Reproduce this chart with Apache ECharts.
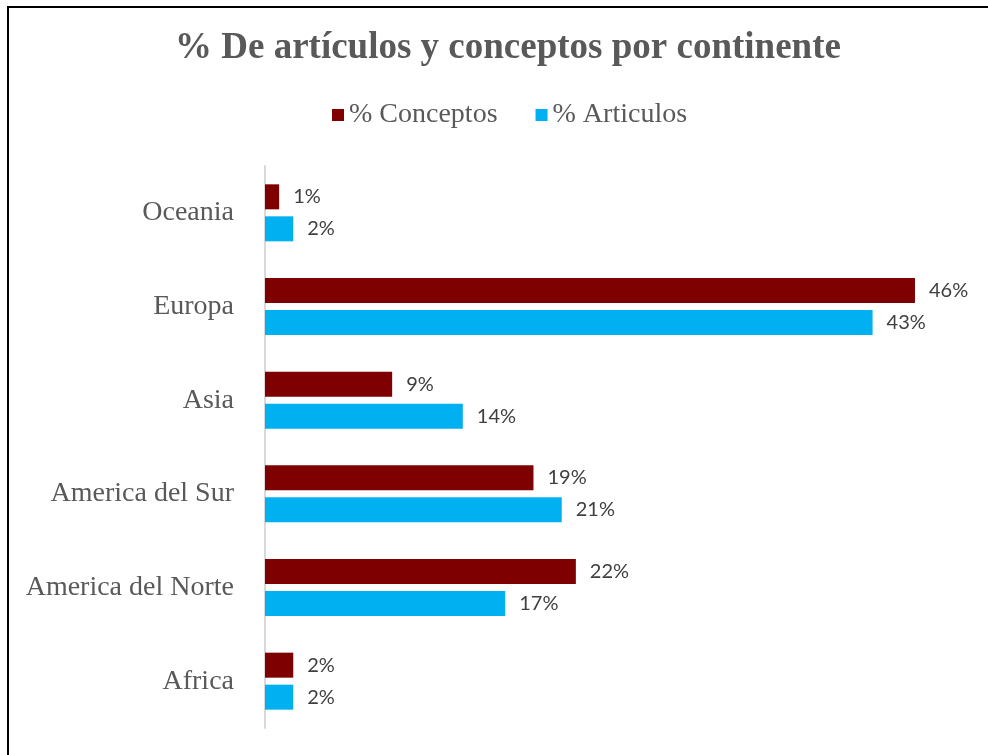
<!DOCTYPE html>
<html>
<head>
<meta charset="utf-8">
<script src="https://cdn.jsdelivr.net/npm/echarts@6/dist/echarts.min.js"></script>
<style>
html,body{margin:0;padding:0;background:#fff;}
#chart{width:988px;height:755px;}
</style>
</head>
<body>
<div id="chart"></div>
<script>
const categories = ['Africa', 'America del Norte', 'America del Sur', 'Asia', 'Europa', 'Oceania'];
const conceptos = [2, 22, 19, 9, 46, 1];
const articulos = [2, 17, 21, 14, 43, 2];
const seriesNames = ['% Conceptos', '% Articulos'];

const chart = echarts.init(document.getElementById('chart'));
const labelCfg = {
  show: true,
  position: 'right',
  distance: 14,
  formatter: p => p.value + '%',
  fontFamily: 'Lato',
  fontSize: 20,
  color: '#404040'
};
chart.setOption({
  animation: false,
  backgroundColor: '#fff',
  graphic: [{
    type: 'rect',
    shape: {x: 8, y: 7, width: 1100, height: 900},
    style: {fill: 'none', stroke: '#000', lineWidth: 2},
    silent: true
  }],
  title: {
    text: '% De artículos y conceptos por continente',
    left: 170,
    top: 25,
    textStyle: {
      fontFamily: 'Liberation Serif',
      fontWeight: 'bold',
      fontSize: 37,
      color: '#595959'
    }
  },
  legend: {
    data: seriesNames,
    top: 96,
    left: 327,
    itemWidth: 12,
    itemHeight: 12,
    itemGap: 38,
    icon: 'rect',
    textStyle: {
      fontFamily: 'Liberation Serif',
      fontSize: 28,
      color: '#595959'
    }
  },
  grid: {
    left: 265,
    top: 166,
    width: 706.5,
    height: 562,
    containLabel: false
  },
  xAxis: {
    type: 'value',
    min: 0,
    max: 50,
    show: false
  },
  yAxis: {
    type: 'category',
    data: categories,
    axisLine: {show: true, lineStyle: {color: '#d9d9d9', width: 2}},
    axisTick: {show: false},
    axisLabel: {
      fontFamily: 'Liberation Serif',
      fontSize: 28,
      color: '#595959',
      margin: 31
    }
  },
  series: [
    {
      name: '% Conceptos',
      type: 'bar',
      data: conceptos,
      barWidth: 25,
      barGap: '28%',
      itemStyle: {color: '#7F0000'},
      label: labelCfg
    },
    {
      name: '% Articulos',
      type: 'bar',
      data: articulos,
      barWidth: 25,
      barGap: '28%',
      itemStyle: {color: '#00B0F0'},
      label: labelCfg
    }
  ]
});
</script>
</body>
</html>
